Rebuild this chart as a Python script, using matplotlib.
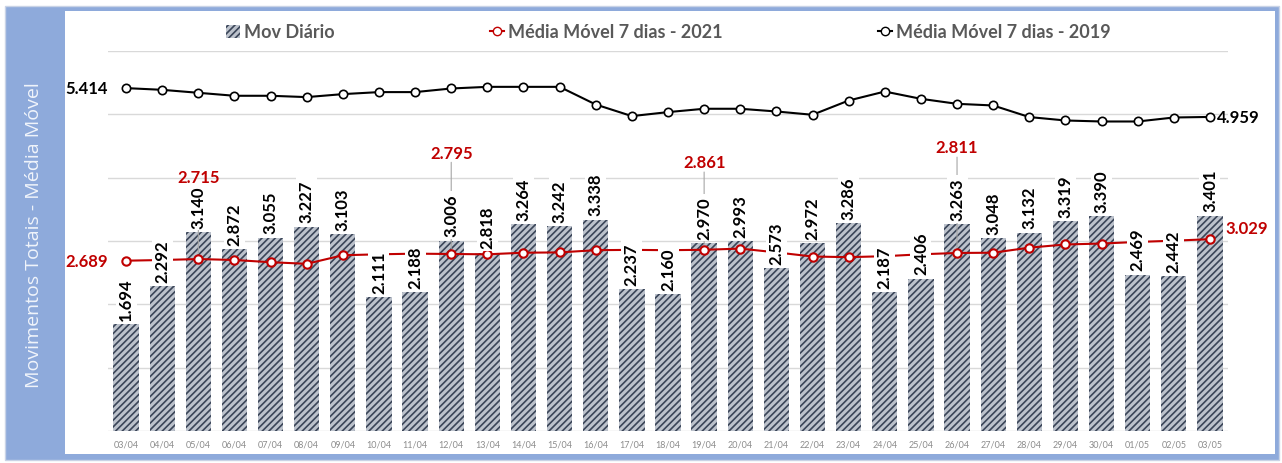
import matplotlib
matplotlib.use('Agg')
import matplotlib.pyplot as plt
from matplotlib.patches import Rectangle
from matplotlib.lines import Line2D
import numpy as np

# Dados
dias = ['03/04', '04/04', '05/04', '06/04', '07/04', '08/04', '09/04', '10/04',
        '11/04', '12/04', '13/04', '14/04', '15/04', '16/04', '17/04', '18/04',
        '19/04', '20/04', '21/04', '22/04', '23/04', '24/04', '25/04', '26/04',
        '27/04', '28/04', '29/04', '30/04', '01/05', '02/05', '03/05']
mov_diario = [1694, 2292, 3140, 2872, 3055, 3227, 3103, 2111, 2188, 3006, 2818,
              3264, 3242, 3338, 2237, 2160, 2970, 2993, 2573, 2972, 3286, 2187,
              2406, 3263, 3048, 3132, 3319, 3390, 2469, 2442, 3401]
media_2021 = [2689, 2700, 2715, 2700, 2665, 2640, 2775, 2790, 2800, 2795, 2790,
              2815, 2820, 2855, 2860, 2855, 2861, 2880, 2820, 2755, 2745, 2760,
              2790, 2811, 2815, 2895, 2945, 2960, 2985, 3005, 3029]
media_2019 = [5414, 5387, 5340, 5293, 5293, 5272, 5319, 5351, 5351, 5408, 5434,
              5434, 5434, 5155, 4972, 5035, 5088, 5088, 5045, 4993, 5218, 5360,
              5245, 5166, 5140, 4957, 4903, 4887, 4887, 4950, 4959]
# rótulos destacados da média 2021 (índice -> deslocamento vertical em pontos)
destaques_2021 = {2: 59, 9: 73, 16: 63, 23: 76}

fmt = lambda v: f'{v/1000:.3f}'

plt.rcParams['hatch.linewidth'] = 1.2
fig = plt.figure(figsize=(12.82, 4.64), dpi=100)

# Moldura azul e painel branco
fig.patches.append(Rectangle((5/1282, 3/464), 1274/1282, 454/464, transform=fig.transFigure,
                             facecolor='#8eaadb', edgecolor='#c9d3e6', lw=1, zorder=-10))
fig.patches.append(Rectangle((65/1282, 9/464), 1210/1282, 443/464, transform=fig.transFigure,
                             facecolor='white', edgecolor='none', zorder=-9))
fig.text(34/1282, 1 - 235/464, 'Movimentos Totais - Média Móvel', rotation=90,
         ha='center', va='center', color='#f0f4fb', fontsize=14, family='Open Sans')

ax = fig.add_axes([108/1282, 1 - 432/464, 1120/1282, 380/464])
ax.patch.set_alpha(0)
x = np.arange(len(dias))

barra = dict(facecolor='#bcc2cc', edgecolor='#3a4558', hatch='/////')
ax.bar(x, mov_diario, width=0.7, linewidth=0, zorder=2, **barra)
ax.plot(x, media_2021, color='#c00000', lw=1.5, marker='o', ms=6, mfc='white', mec='#c00000',
        mew=1.5, zorder=4)
ax.plot(x, media_2019, color='black', lw=1.5, marker='o', ms=6, mfc='white', mec='black',
        mew=1.2, zorder=4)

lbl = dict(family='Lato', weight='bold', fontsize=12)
for i, v in enumerate(mov_diario):
    ax.annotate(fmt(v), (i, v), xytext=(0, 3), textcoords='offset points', rotation=90,
                ha='center', va='bottom', color='black', zorder=6,
                bbox=dict(boxstyle='square,pad=0.15', fc='white', ec='none'), **lbl)

for i, dy in destaques_2021.items():
    # linha de chamada abaixo dos rótulos das barras, texto por cima
    ax.annotate('', (i, media_2021[i]), xytext=(0, dy - 7), textcoords='offset points', zorder=5,
                arrowprops=dict(arrowstyle='-', color='#a6a6a6', lw=0.8, shrinkA=0, shrinkB=4))
    ax.annotate(fmt(media_2021[i]), (i, media_2021[i]), xytext=(0, dy), textcoords='offset points',
                ha='center', va='center', color='#c00000', zorder=7, **lbl)
ax.annotate(fmt(media_2021[0]), (0, media_2021[0]), xytext=(-13, 0), textcoords='offset points',
            ha='right', va='center', color='#c00000', zorder=5, **lbl)
ax.annotate(fmt(media_2021[-1]), (30, media_2021[-1]), xytext=(11, 8), textcoords='offset points',
            ha='left', va='center', color='#c00000', zorder=7, **lbl)
ax.annotate(fmt(media_2019[0]), (0, media_2019[0]), xytext=(-13, 0), textcoords='offset points',
            ha='right', va='center', color='black', zorder=5, **lbl)
ax.annotate(fmt(media_2019[-1]), (30, media_2019[-1]), xytext=(5, 0), textcoords='offset points',
            ha='left', va='center', color='black', zorder=5, **lbl)

ax.set_xlim(-0.5, 30.5)
ax.set_ylim(0, 6000)
ax.set_yticks(np.arange(0, 6001, 1000))
ax.set_yticklabels([])
ax.set_xticks(x)
ax.set_xticklabels(dias, fontsize=6.5, color='#8c8c8c', family='Lato')
ax.tick_params(length=0, pad=6)
ax.grid(axis='y', color='#d9d9d9', lw=1, zorder=0)
for s in ax.spines.values():
    s.set_visible(False)

handles = [Rectangle((0, 0), 1, 1, lw=0, **barra),
           Line2D([], [], color='#c00000', lw=1.5, marker='o', ms=6, mfc='white', mec='#c00000'),
           Line2D([], [], color='black', lw=1.5, marker='o', ms=6, mfc='white', mec='black')]
ax.legend(handles, ['Mov Diário', 'Média Móvel 7 dias - 2021', 'Média Móvel 7 dias - 2019'],
          loc='center', bbox_to_anchor=(0.5, 1.05), ncol=3, frameon=False,
          prop=dict(family='Lato', weight='bold', size=13), labelcolor='#595959',
          columnspacing=8.6, handlelength=0.8, handleheight=0.7, handletextpad=0.2)

fig.savefig('out.png', dpi=100)
